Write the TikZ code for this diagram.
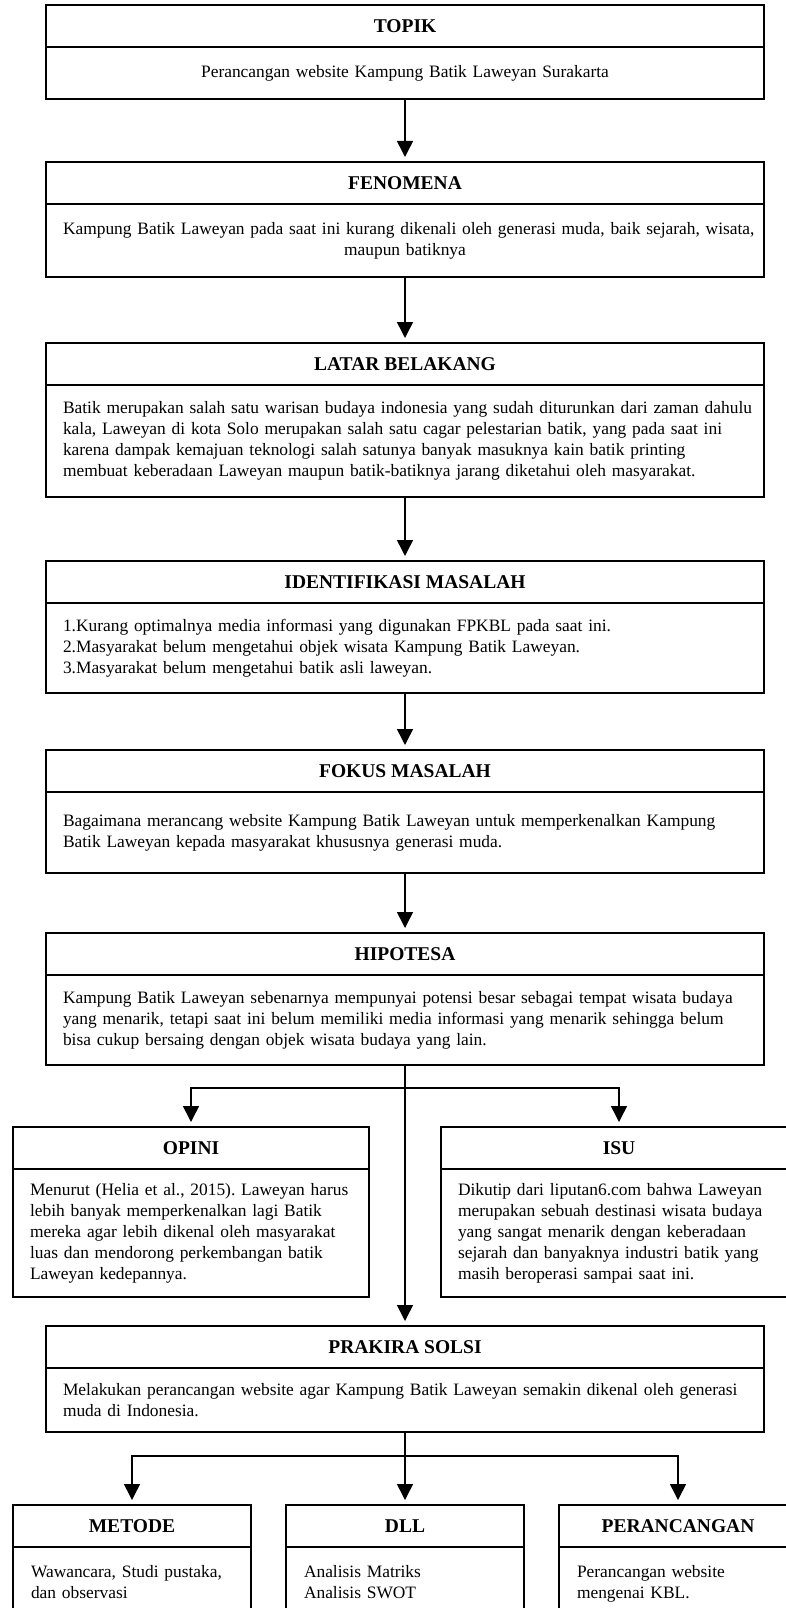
\documentclass[tikz,border=0pt]{standalone}
\usepackage{fontspec}
\setmainfont{Liberation Serif}
\usetikzlibrary{arrows.meta}
\frenchspacing
\hyphenpenalty=10000
\tikzset{
  headbox/.style={draw=black, line width=1.5pt, anchor=north, outer sep=0pt,
    minimum height=42pt, inner sep=0pt, font=\fontsize{19.5}{23}\selectfont\bfseries},
  bodybox/.style={draw=black, line width=1.5pt, anchor=north, outer sep=0pt,
    inner xsep=17pt, inner ysep=0pt, font=\fontsize{17.4}{21}\selectfont},
  edge/.style={-{Triangle[width=16pt,length=16pt]}, line width=1.5pt, shorten >=5pt},
  stem/.style={line width=1.5pt},
}
\newcommand{\headtitle}[5]{\node[headbox, minimum width=#4] (#1) at (#2,#3) {#5};}

\begin{document}
\begin{tikzpicture}[x=1pt, y=-1pt]

  \useasboundingbox (0,0) rectangle (786,1608);
  \clip (0,0) rectangle (786,1608);

  % main column
  \headtitle{topikH}{405}{5}{718pt}{TOPIK}
  \node[bodybox, text width=684pt, align=center, minimum height=52pt] (topik) at (topikH.south)
    {Perancangan website Kampung Batik Laweyan Surakarta};

  \headtitle{fenH}{405}{162}{718pt}{FENOMENA}
  \node[bodybox, text width=684pt, align=center, minimum height=73pt] (fen) at (fenH.south)
    {\mbox{Kampung Batik Laweyan pada saat ini kurang dikenali oleh generasi muda, baik sejarah, wisata,}\\
     maupun batiknya};

  \headtitle{latarH}{405}{343}{718pt}{LATAR BELAKANG}
  \node[bodybox, text width=684pt, align=left, minimum height=112pt] (latar) at (latarH.south)
    {\mbox{Batik merupakan salah satu warisan budaya indonesia yang sudah diturunkan dari zaman dahulu}\\
     \mbox{kala, Laweyan di kota Solo merupakan salah satu cagar pelestarian batik, yang pada saat ini}\\
     \mbox{karena dampak kemajuan teknologi salah satunya banyak masuknya kain batik printing}\\
     \mbox{membuat keberadaan Laweyan maupun batik-batiknya jarang diketahui oleh masyarakat.}};

  \headtitle{identH}{405}{561}{718pt}{IDENTIFIKASI MASALAH}
  \node[bodybox, text width=684pt, align=left, minimum height=90pt] (ident) at (identH.south)
    {1.Kurang optimalnya media informasi yang digunakan FPKBL pada saat ini.\\
     2.Masyarakat belum mengetahui objek wisata Kampung Batik Laweyan.\\
     3.Masyarakat belum mengetahui batik asli laweyan.};

  \headtitle{fokusH}{405}{750}{718pt}{FOKUS MASALAH}
  \node[bodybox, text width=684pt, align=left, minimum height=81pt] (fokus) at (fokusH.south)
    {Bagaimana merancang website Kampung Batik Laweyan untuk memperkenalkan Kampung\\
     Batik Laweyan kepada masyarakat khususnya generasi muda.};

  \headtitle{hipoH}{405}{933}{718pt}{HIPOTESA}
  \node[bodybox, text width=684pt, align=left, minimum height=90pt] (hipo) at (hipoH.south)
    {\mbox{Kampung Batik Laweyan sebenarnya mempunyai potensi besar sebagai tempat wisata budaya}\\
     \mbox{yang menarik, tetapi saat ini belum memiliki media informasi yang menarik sehingga belum}\\
     bisa cukup bersaing dengan objek wisata budaya yang lain.};

  % opini and isu
  \headtitle{opiniH}{191}{1127}{356pt}{OPINI}
  \node[bodybox, text width=322pt, align=left, minimum height=128pt] (opini) at (opiniH.south)
    {\mbox{Menurut (Helia et al., 2015). Laweyan harus}\\
     lebih banyak memperkenalkan lagi Batik\\
     \mbox{mereka agar lebih dikenal oleh masyarakat}\\
     luas dan mendorong perkembangan batik\\
     Laweyan kedepannya.};

  \headtitle{isuH}{619}{1127}{356pt}{ISU}
  \node[bodybox, text width=322pt, align=left, minimum height=128pt] (isu) at (isuH.south)
    {Dikutip dari liputan6.com bahwa Laweyan\\
     \mbox{merupakan sebuah destinasi wisata budaya}\\
     yang sangat menarik dengan keberadaan\\
     \mbox{sejarah dan banyaknya industri batik yang}\\
     masih beroperasi sampai saat ini.};

  \headtitle{prakiraH}{405}{1326}{718pt}{PRAKIRA SOLSI}
  \node[bodybox, text width=684pt, align=left, minimum height=64pt] (prakira) at (prakiraH.south)
    {\mbox{Melakukan perancangan website agar Kampung Batik Laweyan semakin dikenal oleh generasi}\\
     muda di Indonesia.};

  % bottom row
  \headtitle{metodeH}{132}{1505}{238pt}{METODE}
  \node[bodybox, text width=202pt, inner xsep=18pt, align=left, minimum height=90pt] (metode) at (metodeH.south)
    {Wawancara, Studi pustaka,\\ dan observasi\\ \mbox{}};

  \headtitle{dllH}{405}{1505}{238pt}{DLL}
  \node[bodybox, text width=202pt, inner xsep=18pt, align=left, minimum height=90pt] (dll) at (dllH.south)
    {Analisis Matriks\\ Analisis SWOT\\ \mbox{}};

  \headtitle{perancH}{678}{1505}{238pt}{PERANCANGAN}
  \node[bodybox, text width=202pt, inner xsep=18pt, align=left, minimum height=90pt] (peranc) at (perancH.south)
    {Perancangan website\\ mengenai KBL.\\ \mbox{}};

  % connectors
  \draw[edge] (topik.south) -- (fenH.north);
  \draw[edge] (fen.south) -- (latarH.north);
  \draw[edge] (latar.south) -- (identH.north);
  \draw[edge] (ident.south) -- (fokusH.north);
  \draw[edge] (fokus.south) -- (hipoH.north);
  \draw[edge] (hipo.south) -- (prakiraH.north);

  \coordinate (fork1) at (405,1088);
  \draw[edge] (fork1) -| (opiniH.north);
  \draw[edge] (fork1) -| (isuH.north);

  \coordinate (fork2) at (405,1456);
  \draw[stem] (prakira.south) -- (fork2);
  \draw[edge] (fork2) -| (metodeH.north);
  \draw[edge] (fork2) -- (dllH.north);
  \draw[edge] (fork2) -| (perancH.north);

\end{tikzpicture}
\end{document}
